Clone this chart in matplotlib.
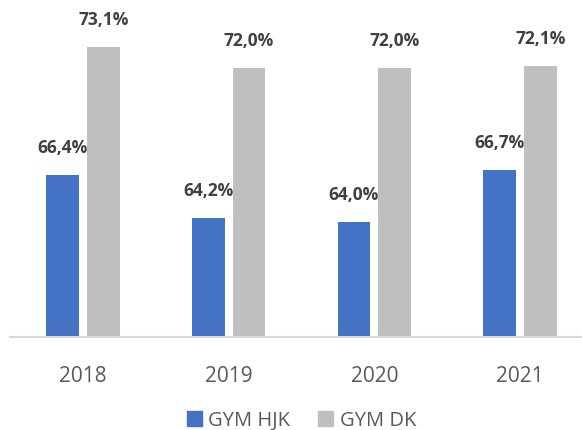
import matplotlib
matplotlib.use("Agg")
import matplotlib.pyplot as plt
import numpy as np
from matplotlib.patches import Patch

categories = ["2018", "2019", "2020", "2021"]
series_names = ["GYM HJK", "GYM DK"]
hjk = [66.4, 64.2, 64.0, 66.7]
dk = [73.1, 72.0, 72.0, 72.1]
colors = ["#4472C4", "#BFBFBF"]

W, H = 582, 430
fig = plt.figure(figsize=(W / 100, H / 100), dpi=100)
plt.rcParams['font.family'] = ['Open Sans', 'DejaVu Sans']

left, right, bottom, top = 10, 593, 337, 10
ax = fig.add_axes([left / W, (H - bottom) / H, (right - left) / W, (bottom - top) / H])

x = np.arange(len(categories))
bw = 0.226
off = 0.14
b1 = ax.bar(x - off, hjk, bw, color=colors[0])
b2 = ax.bar(x + off, dk, bw, color=colors[1])
ax.set_ylim(58, 75)
ax.set_xlim(-0.5, len(categories) - 0.5)

def fmt(v):
    return f"{v:.1f}%".replace(".", ",")

for bars, vals in ((b1, hjk), (b2, dk)):
    for rect, v in zip(bars, vals):
        ax.annotate(fmt(v), (rect.get_x() + rect.get_width() / 2, v),
                    xytext=(0, 27), textcoords='offset pixels',
                    ha='center', va='center', fontsize=12.5, fontweight='bold',
                    color='#404040')

for s in ["top", "right", "left"]:
    ax.spines[s].set_visible(False)
ax.spines["bottom"].set_color("#D9D9D9")
ax.spines["bottom"].set_linewidth(1.5)
ax.set_yticks([])
ax.set_xticks(x)
ax.set_xticklabels(categories, fontsize=15, color="#595959")
ax.tick_params(axis='x', length=0, pad=21)

handles = [Patch(color=c, label=n) for c, n in zip(colors, series_names)]
fig.legend(handles=handles, loc='center', bbox_to_anchor=(0.518, 0.022),
           ncol=2, frameon=False, fontsize=14.5, labelcolor="#595959",
           handlelength=0.75, handleheight=0.75, handletextpad=0.3,
           columnspacing=1.4, borderaxespad=0, borderpad=0)

fig.savefig("out.png", dpi=100)
